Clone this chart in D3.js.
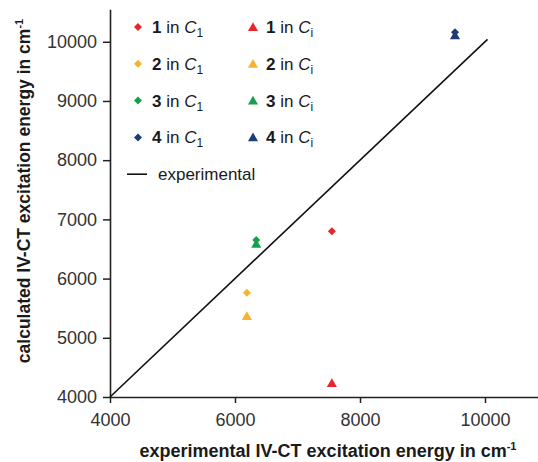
<!DOCTYPE html>
<html>
<head>
<meta charset="utf-8">
<script src="https://cdn.jsdelivr.net/npm/d3@7"></script>
<style>
  body { margin: 0; background: #fff; }
  svg { display: block; font-family: "Liberation Sans", Arial, sans-serif; }
</style>
</head>
<body>
<svg id="chart" width="538" height="462"></svg>
<script>
// data
var compounds = ["1", "2", "3", "4"];
var colors = ["#e5262b", "#f7b32d", "#17a04b", "#1d3d74"];
var expEnergy = [7550, 6190, 6340, 9520];      // experimental (x)
var calcC1 = [6800, 5760, 6650, 10160];        // calculated in C1 (diamonds)
var calcCi = [4220, 5350, 6570, 10090];        // calculated in Ci (triangles)
var xTicks = [4000, 6000, 8000, 10000];
var yTicks = [4000, 5000, 6000, 7000, 8000, 9000, 10000];
var diagonal = [4000, 10040];

var svg = d3.select("#chart");

var x = d3.scaleLinear().domain([4000, 11000]).range([110, 547.5]);
var y = d3.scaleLinear().domain([4000, 10550]).range([397, 9.2]);

// axes
var xAxis = svg.append("g")
  .attr("transform", "translate(0," + y(4000) + ")")
  .call(d3.axisBottom(x).tickValues(xTicks).tickFormat(d3.format("d"))
    .tickSize(6).tickSizeOuter(0).tickPadding(10));
var yAxis = svg.append("g")
  .attr("transform", "translate(" + x(4000) + ",0)")
  .call(d3.axisLeft(y).tickValues(yTicks).tickFormat(d3.format("d"))
    .tickSize(7).tickSizeOuter(0).tickPadding(6));

[xAxis, yAxis].forEach(function(a){
  a.select(".domain").attr("stroke", "#222").attr("stroke-width", 1.6);
  a.selectAll(".tick line").attr("stroke", "#222").attr("stroke-width", 1.5);
  a.selectAll(".tick text").attr("font-size", 18).attr("fill", "#333")
    .attr("font-family", "'Liberation Sans', Arial, sans-serif");
});

// experimental line (y = x)
svg.append("line")
  .attr("x1", x(diagonal[0])).attr("y1", y(diagonal[0]))
  .attr("x2", x(diagonal[1])).attr("y2", y(diagonal[1]))
  .attr("stroke", "#111").attr("stroke-width", 1.6);

var diamond = d3.symbol().type(d3.symbolSquare).size(32);
var triangle = d3.symbol().type(d3.symbolTriangle).size(44);

// points
compounds.forEach(function(c, i){
  svg.append("path").attr("d", triangle())
    .attr("transform", "translate(" + x(expEnergy[i]) + "," + y(calcCi[i]) + ")")
    .attr("fill", colors[i]);
  svg.append("path").attr("d", diamond())
    .attr("transform", "translate(" + x(expEnergy[i]) + "," + y(calcC1[i]) + ") rotate(45)")
    .attr("fill", colors[i]);
});

// legend
var legend = svg.append("g");
var rowY = function(i){ return 27 + i * 36.8; };
function legendText(g, tx, ty, num, sub){
  var t = g.append("text").attr("x", tx).attr("y", ty + 6)
    .attr("font-size", 17).attr("fill", "#1a1a1a");
  t.append("tspan").attr("font-weight", "bold").text(num);
  t.append("tspan").text(" in ");
  t.append("tspan").attr("font-style", "italic").text("C");
  t.append("tspan").attr("font-size", 12).attr("dy", 4).text(sub);
}
compounds.forEach(function(c, i){
  legend.append("path").attr("d", diamond())
    .attr("transform", "translate(138," + rowY(i) + ") rotate(45)")
    .attr("fill", colors[i]);
  legendText(legend, 152, rowY(i), c, "1");
  legend.append("path").attr("d", triangle())
    .attr("transform", "translate(253," + (rowY(i) + 1) + ")")
    .attr("fill", colors[i]);
  legendText(legend, 266, rowY(i), c, "i");
});
legend.append("line")
  .attr("x1", 127).attr("x2", 147)
  .attr("y1", rowY(4)).attr("y2", rowY(4))
  .attr("stroke", "#111").attr("stroke-width", 1.6);
legend.append("text").attr("x", 158).attr("y", rowY(4) + 6)
  .attr("font-size", 17).attr("fill", "#1a1a1a").text("experimental");

// axis titles
var xt = svg.append("text")
  .attr("x", 328).attr("y", 457)
  .attr("text-anchor", "middle")
  .attr("font-size", 18).attr("font-weight", "bold").attr("fill", "#1a1a1a");
xt.append("tspan").text("experimental IV-CT excitation energy in cm");
xt.append("tspan").attr("font-size", 11).attr("dy", -7).text("-1");

var yt = svg.append("text")
  .attr("transform", "translate(30,191) rotate(-90)")
  .attr("text-anchor", "middle")
  .attr("font-size", 17.5).attr("font-weight", "bold").attr("fill", "#1a1a1a");
yt.append("tspan").text("calculated IV-CT excitation energy in cm");
yt.append("tspan").attr("font-size", 11).attr("dy", -7).text("-1");
</script>
</body>
</html>
